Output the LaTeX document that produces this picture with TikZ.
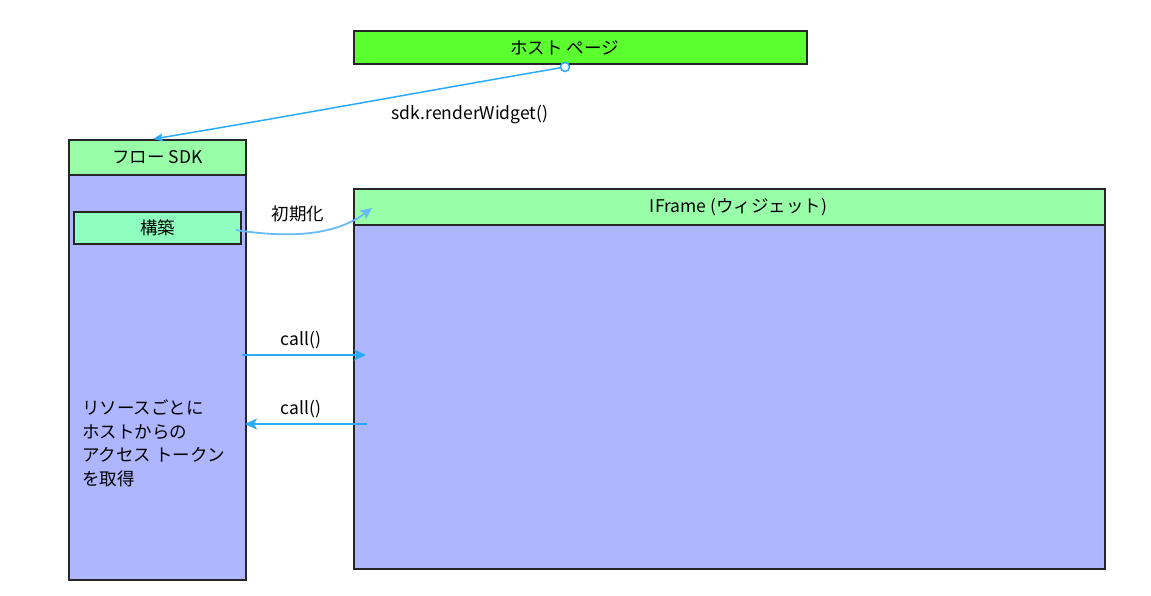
\documentclass[tikz,border=0pt]{standalone}
\usepackage{fontspec}
\setmainfont{Noto Sans CJK JP}
\usepackage{xcolor}
\usetikzlibrary{positioning,arrows.meta}

\definecolor{hostgreen}{HTML}{5BFF2F}
\definecolor{headgreen}{HTML}{98FFA8}
\definecolor{buildgreen}{HTML}{8EFFBE}
\definecolor{bodyblue}{HTML}{AEB6FF}
\definecolor{linkblue}{HTML}{2AAAFF}
\definecolor{softblue}{HTML}{66BBF8}

\begin{document}
\begin{tikzpicture}[x=1pt, y=-1pt,
    font=\fontsize{17.5pt}{23.5pt}\selectfont,
    box/.style={draw=black!85, line width=1.4pt, inner sep=0pt},
    body/.style={box, fill=bodyblue},
    head/.style={box, fill=headgreen},
    link/.style={draw=linkblue, line width=1.8pt, -{Stealth[length=12pt, width=11pt, inset=3pt]}},
    softlink/.style={draw=softblue, line width=1.8pt, -{Stealth[length=12pt, width=11pt, inset=3pt]}}]

    \useasboundingbox[fill=white] (0,0) rectangle (1151,596);

    % 
    \node[box, fill=hostgreen, minimum width=453pt, minimum height=33pt] (host) at (580.5,47.5) {ホスト ページ\hspace*{32pt}};

    % 
    \node[body, minimum width=177pt, minimum height=440pt] (sdk) at (157.5,360) {};
    \node[head, minimum width=177pt, minimum height=35pt, anchor=north] (sdkhead) at (sdk.north) {フロー SDK};
    \node[box, fill=buildgreen, minimum width=167pt, minimum height=32pt] (build) at (157.5,228) {構築};
    \node[align=left, anchor=north west, inner sep=0pt] (note) at (82,400) {リソースごとに\\ホストからの\\アクセス トークン\\を取得};

    % 
    \node[body, minimum width=751pt, minimum height=380pt] (iframe) at (729.5,379) {};
    \node[head, minimum width=751pt, minimum height=36pt, anchor=north] (iframehead) at (iframe.north) {\hspace*{18pt}IFrame (ウィジェット)};

    % 
    \coordinate (hostout) at (565,67);
    \coordinate (sdkin) at (153,139);
    \coordinate (initout) at (236,230);
    \coordinate (initin) at (372,208);
    \coordinate (callA) at (242,355);
    \coordinate (callB) at (366,355);
    \coordinate (backA) at (367,424);
    \coordinate (backB) at (245,424);

    % 
    \draw[draw=linkblue, line width=1.5pt, -{Stealth[length=10pt, width=8pt, inset=2pt]}] (hostout) .. controls (420,92) and (280,118) .. (sdkin);
    \draw[draw=linkblue, line width=1.5pt, fill=white] (hostout) circle (4.5pt);
    \node (render) at (470,115) {sdk.renderWidget()};

    \draw[softlink] (initout) .. controls (300,240) and (340,232) .. (initin);
    \node (init) at (298,214) {初期化};

    \draw[link] (callA) -- (callB);
    \node (callone) at (301,340) {call()};
    \draw[link] (backA) -- (backB);
    \node (calltwo) at (301,409) {call()};

\end{tikzpicture}
\end{document}
